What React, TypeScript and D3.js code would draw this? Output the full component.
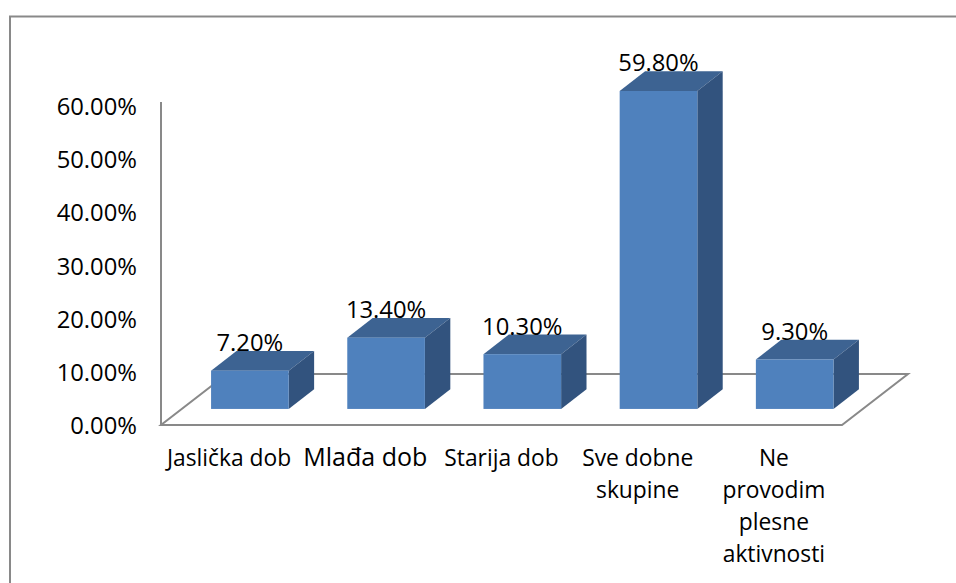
import React from "react";
import * as d3 from "d3";

const categories: string[][] = [
  ["Jaslička dob"],
  ["Mlađa dob"],
  ["Starija dob"],
  ["Sve dobne", "skupine"],
  ["Ne", "provodim", "plesne", "aktivnosti"],
];
const values: number[] = [7.2, 13.4, 10.3, 59.8, 9.3];
const valueLabels: string[] = ["7.20%", "13.40%", "10.30%", "59.80%", "9.30%"];
const yTicks: number[] = [0, 10, 20, 30, 40, 50, 60];

const W = 956;
const H = 583;
const FONT = "'Open Sans', 'Liberation Sans', sans-serif";

export default function App() {
  // floor geometry
  const floorLeft = 161;
  const floorRight = 842;
  const floorFrontY = 425;
  const depthDX = 66;
  const depthDY = -51;
  const barFrontDepth = 0.315;
  const barDepth = 0.385;

  const x = d3
    .scaleBand<number>()
    .domain(values.map((_, i) => i))
    .range([floorLeft, floorRight])
    .paddingInner(0.43)
    .paddingOuter(0.215);
  const xCat = d3
    .scaleBand<number>()
    .domain(values.map((_, i) => i))
    .range([floorLeft, floorRight]);

  const h = d3.scaleLinear().domain([0, 60]).range([0, 319]);
  const yAxis = (v: number) => floorFrontY - h(v);

  const fdx = depthDX * barFrontDepth;
  const fdy = depthDY * barFrontDepth;
  const bdx = depthDX * barDepth;
  const bdy = depthDY * barDepth;

  const gray = "#898989";
  const front = "#4F81BD";
  const top = "#3D6392";
  const side = "#32537E";

  const floorPts: [number, number][] = [
    [floorLeft, floorFrontY],
    [floorRight, floorFrontY],
    [floorRight + depthDX, floorFrontY + depthDY],
    [floorLeft + depthDX, floorFrontY + depthDY],
  ];

  return (
    <svg width={W} height={H} style={{ display: "block", position: "absolute", left: 0, top: 0 }}>
      <rect x={0} y={0} width={W} height={H} fill="#fff" />
      <rect x={10} y={16.5} width={980} height={620} fill="#fff" stroke={gray} strokeWidth={2} />
      {/* floor */}
      <polygon
        points={floorPts.map((p) => p.join(",")).join(" ")}
        fill="none"
        stroke={gray}
        strokeWidth={2}
      />
      {/* vertical axis */}
      <line x1={floorLeft} x2={floorLeft} y1={yAxis(60) - 4} y2={floorFrontY + 1} stroke={gray} strokeWidth={2} />
      {yTicks.map((t) => (
        <text
          key={t}
          x={137}
          y={yAxis(t)}
          textAnchor="end"
          dominantBaseline="central"
          fontFamily={FONT}
          fontSize={23.8}
          fill="#000"
        >
          {t.toFixed(2) + "%"}
        </text>
      ))}
      {/* bars */}
      {values.map((v, i) => {
        const x0 = (x(i) as number) + fdx;
        const x1 = x0 + x.bandwidth();
        const yb = floorFrontY + fdy;
        const yt = yb - h(v);
        return (
          <g key={i}>
            <polygon
              points={`${x0},${yt} ${x1},${yt} ${x1 + bdx},${yt + bdy} ${x0 + bdx},${yt + bdy}`}
              fill={top}
            />
            <polygon
              points={`${x1},${yt} ${x1 + bdx},${yt + bdy} ${x1 + bdx},${yb + bdy} ${x1},${yb}`}
              fill={side}
            />
            <rect x={x0} y={yt} width={x1 - x0} height={yb - yt} fill={front} />
          </g>
        );
      })}
      {/* value labels */}
      {values.map((v, i) => {
        const x0 = (x(i) as number) + fdx;
        const yt = floorFrontY + fdy - h(v);
        return (
          <text
            key={i}
            x={x0 + x.bandwidth() / 2}
            y={yt - 19.5}
            textAnchor="middle"
            fontFamily={FONT}
            fontSize={23.8}
            fill="#000"
          >
            {valueLabels[i]}
          </text>
        );
      })}
      {/* category labels */}
      {categories.map((lines, i) => {
        const cx = (xCat(i) as number) + xCat.bandwidth() / 2;
        return (
          <text
            key={i}
            x={cx}
            y={465.5}
            textAnchor="middle"
            fontFamily={FONT}
            fontSize={i === 1 ? 25 : 22.8}
            fill="#000"
          >
            {lines.map((l, j) => (
              <tspan key={j} x={cx} dy={j === 0 ? 0 : 32.3}>
                {l}
              </tspan>
            ))}
          </text>
        );
      })}
    </svg>
  );
}
